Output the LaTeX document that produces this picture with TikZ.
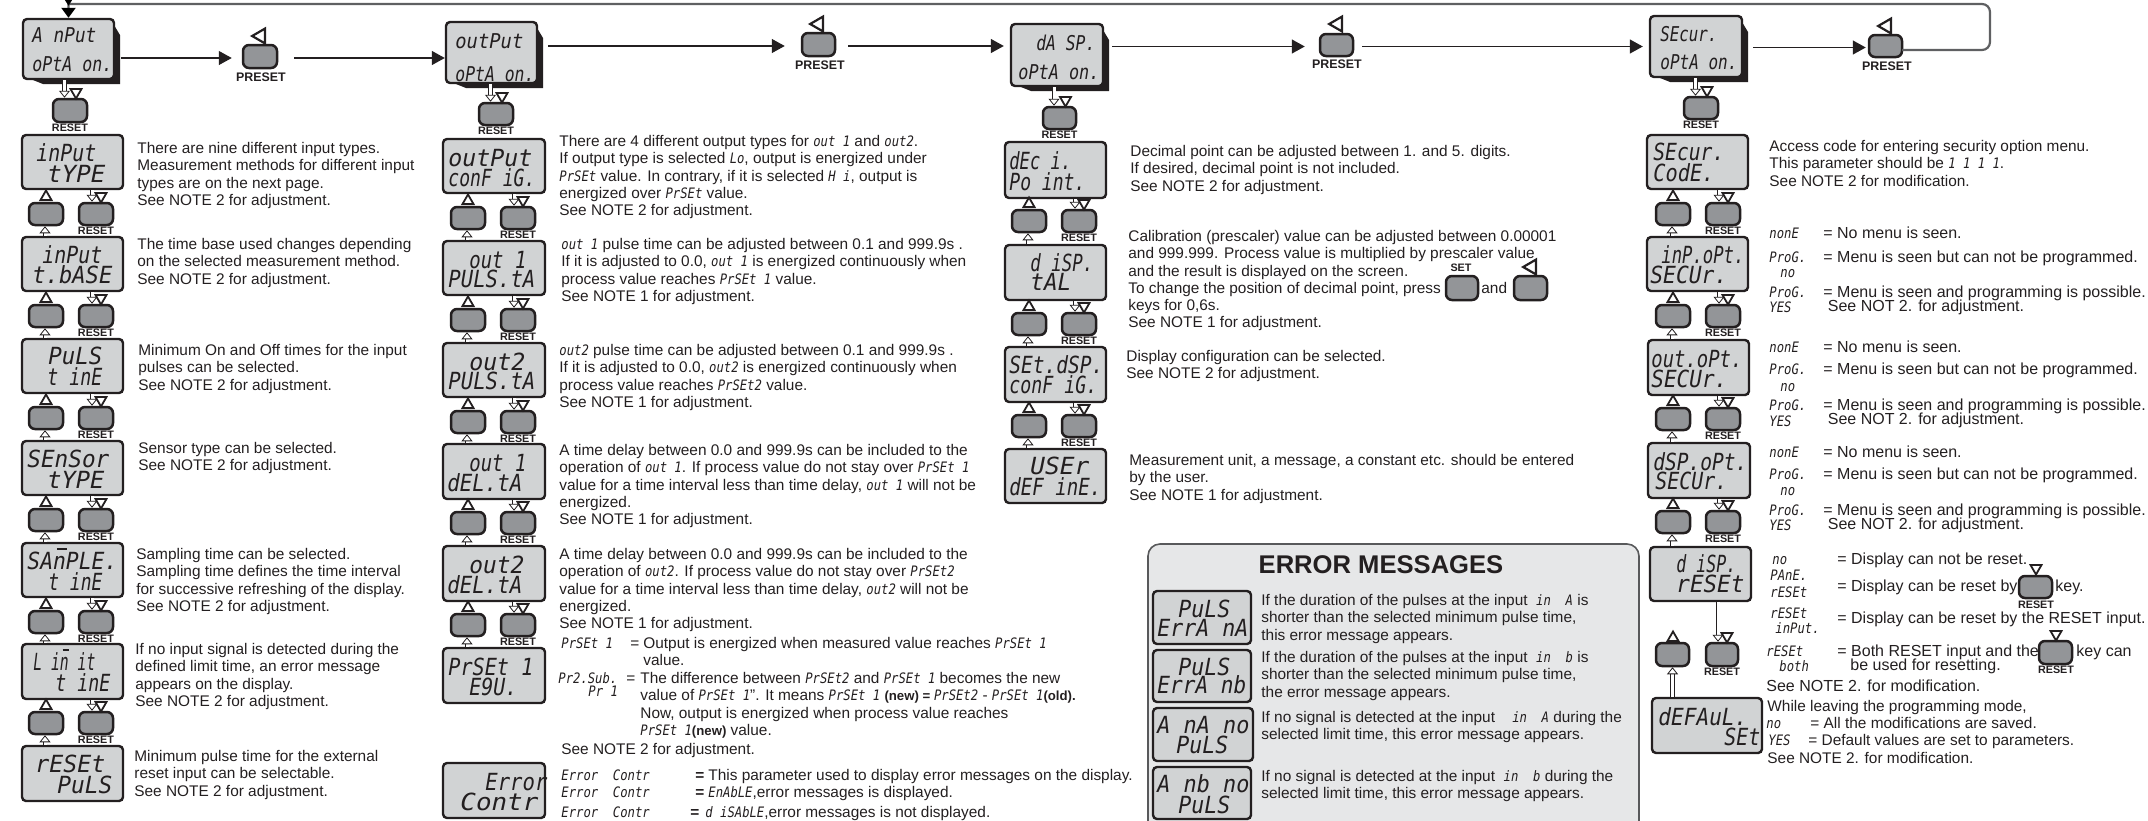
\documentclass[tikz,border=0pt]{standalone}
\usepackage{fontspec}
\usepackage{graphicx}
\usetikzlibrary{arrows.meta,fit,shapes.geometric}
\setmainfont{Liberation Sans}
\newfontfamily\lcdfam{DejaVu Sans Mono}
\newfontfamily\lcdinl[FakeStretch=.85]{DejaVu Sans Mono}
\definecolor{dark}{HTML}{231F20}
\definecolor{face}{HTML}{D1D3D4}
\definecolor{key}{HTML}{939598}
\definecolor{pan}{HTML}{E6E7E8}
\definecolor{panline}{HTML}{58595B}
\definecolor{loopc}{HTML}{5F6062}
\newlength\upx \setlength\upx{.5pt}
\newcounter{tnode}
\newcommand\lcdbig{\lcdfam\itshape\fontsize{11.8}{13}\selectfont}
\newcommand\lcdsm{\lcdfam\itshape\fontsize{10.2}{11}\selectfont}
\newcommand\lc[1]{{\lcdinl\itshape\fontsize{7.2}{8}\selectfont #1}}
\newcommand\mn{\rlap{\hspace{.18em}\raisebox{.8em}{\rule{.45em}{.09em}}}n}
\newcommand\fa{\fontsize{7.7}{8.65}\selectfont}
\newcommand\fb{\fontsize{8}{8.65}\selectfont}
\tikzset{
 lcdbox/.style={draw=dark,fill=face,line width=1.2pt,rounded corners=2pt,inner sep=0pt},
 btnbox/.style={draw=dark,fill=key,line width=1.25pt,rounded corners=3pt,inner sep=0pt},
 lcdtext/.style={anchor=base west,inner sep=0pt,text=dark},
 txt/.style={anchor=north west,align=left,inner sep=0pt,text=dark},
 keylab/.style={inner sep=0pt,text=dark,font=\bfseries\fontsize{5.4}{6}\selectfont},
 preslab/.style={inner sep=0pt,text=dark,font=\bfseries\fontsize{6.2}{7}\selectfont},
 tribase/.style={regular polygon,regular polygon sides=3,draw=dark,fill=white,inner sep=0pt,line width=.9pt,minimum size=6.4pt},
 tribig/.style={regular polygon,regular polygon sides=3,draw=dark,fill=white,inner sep=0pt,line width=1.1pt,minimum size=8.5pt},
 flow/.style={draw=dark,line width=.65pt,transform canvas={yshift=-.75pt},-{Triangle[length=6.5pt,width=7pt]}},
 hollow/.style={draw=dark,line width=.45pt,double=white,double distance=1.5pt,-{Triangle[fill=white,length=3.5pt,width=5.5pt,line width=.4pt]}},
 loopline/.style={draw=loopc,line width=1.1pt},
 panelbox/.style={draw=panline,fill=pan,line width=.8pt,rounded corners=6pt,inner sep=0pt},
}
% displays
\newcommand\dsp[5]{\node[lcdbox,fit={(#2,#3)(#4,#5)}] (#1) {};}
\newcommand\topdsp[5]{\fill[dark] (#4-3,#3+1) -- (#4+6,#3+16) -- (#4+6,#5+5) -- (#2+20,#5+5) -- (#2,#5-3) -- cycle;
 \node[lcdbox,fit={(#2,#3)(#4,#5)}] (#1) {};}
\newcommand\btn[5]{\node[btnbox,fit={(#2,#3)(#4,#5)}] (#1) {};}
\newcommand\lcdl[4]{\stepcounter{tnode}\node[lcdtext] (t\arabic{tnode}) at (#1,#2) {\resizebox{#3\upx}{\height}{\lcdbig #4}};}
\newcommand\lcds[4]{\stepcounter{tnode}\node[lcdtext] (t\arabic{tnode}) at (#1,#2) {\resizebox{#3\upx}{\height}{\lcdsm #4}};}
\newcommand\triU[2]{\stepcounter{tnode}\node[tribase,anchor=south] (t\arabic{tnode}) at ({#1},{#2}) {};}
\newcommand\triD[2]{\stepcounter{tnode}\node[tribase,shape border rotate=180,anchor=north] (t\arabic{tnode}) at ({#1},{#2}) {};}
\newcommand\triL[2]{\stepcounter{tnode}\node[tribig,shape border rotate=90,anchor=east] (t\arabic{tnode}) at ({#1},{#2}) {};}
\newcommand\rlab[3]{\stepcounter{tnode}\node[keylab] (t\arabic{tnode}) at ({#1},{#2}) {#3};}
\newcommand\plab[3]{\stepcounter{tnode}\node[preslab] (t\arabic{tnode}) at ({#1},{#2}) {#3};}
\newcommand\para[4][\fa]{\stepcounter{tnode}\node[txt,font=#1] (t\arabic{tnode}) at (#2,#3-7) {\rule{0pt}{6pt}#4};}
% two keys between two displays: L, T, prefix, this box, next box
\newcommand\ctl[5]{%
 \btn{#3l}{#1+7}{#2+68}{#1+41}{#2+90}
 \btn{#3r}{#1+57}{#2+68}{#1+91}{#2+90}
 \triU{#1+24}{#2+66}
 \triD{#1+79}{#2+57}
 \rlab{#1+74}{#2+96}{RESET}
 \draw[hollow,transform canvas={xshift=-2pt}] (#4.south -| #3r.north) -- (#3r.north);
 \draw[hollow,transform canvas={xshift=-.5pt}] (#5.north -| #3l.south) -- (#3l.south);
}
% single key below a menu head: name x1 y1 x2 y2 head
\newcommand\topctl[6]{%
 \btn{#1}{#2}{#3}{#4}{#5}
 \triD{(#2+#4)/2+6}{#3-11}
 \rlab{(#2+#4)/2}{#5+6}{RESET}
 \draw[hollow,transform canvas={xshift=-2.75pt}] (#6.south -| #1.north) -- (#1.north);
}
\begin{document}
\begin{tikzpicture}[x=.5pt,y=-.5pt]
\useasboundingbox (0,0) rectangle (2148,820);
% error panel behind
\node[panelbox,fit={(1148,544)(1639,850)}] (errpanel) {};
\stepcounter{tnode}\node[inner sep=0pt,text=dark,font=\bfseries\fontsize{12.8}{14}\selectfont] (errtitle) at (1381,565) {ERROR MESSAGES};

% ---- heads and preset keys
\topdsp{a1}{23}{19}{114}{79}
\lcds{32}{42}{64}{A nPut}\lcds{32}{71}{80}{oPtA on.}
\btn{p1}{243}{45}{277}{68}\triL{266}{36}\plab{261}{77}{PRESET}
\topdsp{a2}{446}{22}{537}{83}
\lcds{455}{48}{68}{outPut}\lcds{455}{81}{79}{oPtA on.}
\btn{p2}{802}{33}{835}{56}\triL{824}{24}\plab{820}{65}{PRESET}
\topdsp{a3}{1011}{24}{1103}{86}
\lcds{1036}{50}{59}{dA SP.}\lcds{1018}{79}{81}{oPtA on.}
\btn{p3}{1320}{34}{1353}{56}\triL{1343}{24}\plab{1337}{64}{PRESET}
\topdsp{a4}{1650}{16}{1742}{77}
\lcds{1660}{41}{57}{SEcur.}\lcds{1660}{69}{77}{oPtA on.}
\btn{p4}{1869}{35}{1902}{57}\triL{1892}{26}\plab{1887}{66}{PRESET}

\draw[flow,shorten <=3pt,shorten >=5pt] (a1.east |- p1.west) -- (p1.west);
\draw[flow,shorten <=8pt] (p1.east) -- (a2.west |- p1.east);
\draw[flow,shorten <=5pt,shorten >=8pt] (a2.east |- p2.west) -- (p2.west);
\draw[flow,shorten <=6pt,shorten >=3pt] (p2.east) -- (a3.west |- p2.east);
\draw[flow,shorten <=4pt,shorten >=7pt] (a3.east |- p3.west) -- (p3.west);
\draw[flow,shorten <=4pt,shorten >=3pt] (p3.east) -- (a4.west |- p3.east);
\draw[flow,shorten <=5pt,shorten >=1pt] (a4.east |- p4.west) -- (p4.west);
\coordinate (loopa) at (1902,50);
\coordinate (loopb) at (1990,4);
\draw[loopline,rounded corners=4pt,-{Triangle[color=black,length=3pt,width=3.5pt,sep=1pt]Triangle[color=black,length=5pt,width=7pt]}] (loopa) -- (loopb |- loopa) -- (loopb) [sharp corners] -- (a1.north |- loopb) -- (a1.north);

% ---- column 1
\topctl{k1}{53}{99}{87}{122}{a1}
\dsp{c1a}{22}{135}{123}{189}\lcdl{36}{161}{60}{inPut}\lcdl{47}{182}{58}{tYPE}
\dsp{c1b}{22}{237}{123}{291}\lcdl{42}{263}{60}{inPut}\lcdl{32}{283}{80}{t.bASE}
\dsp{c1c}{22}{339}{123}{393}\lcdl{48}{364}{54}{PuLS}\lcdl{47}{385}{55}{t inE}
\dsp{c1d}{22}{441}{123}{495}\lcdl{27}{467}{82}{SEnSor}\lcdl{47}{488}{57}{tYPE}
\dsp{c1e}{22}{543}{123}{597}\lcdl{27}{569}{90}{SA\mn PLE.}\lcdl{48}{590}{54}{t inE}
\dsp{c1f}{22}{644}{123}{699}\lcdl{33}{670}{62}{L i\mn\ it}\lcdl{55}{691}{55}{t inE}
\dsp{c1g}{22}{746}{123}{801}\lcdl{35}{772}{70}{rESEt}\lcdl{57}{793}{55}{PuLS}
\ctl{22}{135}{c1ka}{c1a}{c1b}
\ctl{22}{237}{c1kb}{c1b}{c1c}
\ctl{22}{339}{c1kc}{c1c}{c1d}
\ctl{22}{441}{c1kd}{c1d}{c1e}
\ctl{22}{543}{c1ke}{c1e}{c1f}
\ctl{22}{644}{c1kf}{c1f}{c1g}
\para{137}{148}{There are nine different input types.\\Measurement methods for different input\\types are on the next page.\\See NOTE 2 for adjustment.}
\para{137}{244}{The time base used changes depending\\on the selected measurement method.\\See NOTE 2 for adjustment.}
\para{138}{350}{Minimum On and Off times for the input\\pulses can be selected.\\See NOTE 2 for adjustment.}
\para{138}{448}{Sensor type can be selected.\\See NOTE 2 for adjustment.}
\para{136}{554}{Sampling time can be selected.\\Sampling time defines the time interval\\for successive refreshing of the display.\\See NOTE 2 for adjustment.}
\para{135}{649}{If no input signal is detected during the\\defined limit time, an error message\\appears on the display.\\See NOTE 2 for adjustment.}
\para{134}{756}{Minimum pulse time for the external\\reset input can be selectable.\\See NOTE 2 for adjustment.}

% ---- column 2
\topctl{k2}{479}{103}{513}{125}{a2}
\dsp{c2a}{443}{139}{545}{193}\lcdl{448}{166}{84}{outPut}\lcdl{448}{186}{87}{conF iG.}
\dsp{c2b}{443}{241}{545}{295}\lcdl{469}{268}{57}{out 1}\lcdl{448}{287}{87}{PULS.tA}
\dsp{c2c}{443}{343}{545}{397}\lcdl{469}{370}{56}{out2}\lcdl{448}{389}{87}{PULS.tA}
\dsp{c2d}{443}{444}{545}{499}\lcdl{469}{471}{57}{out 1}\lcdl{447}{491}{75}{dEL.tA}
\dsp{c2e}{443}{546}{545}{601}\lcdl{469}{573}{55}{out2}\lcdl{447}{593}{75}{dEL.tA}
\dsp{c2f}{443}{648}{545}{703}\lcdl{448}{675}{85}{PrSEt 1}\lcdl{469}{695}{48}{E9U.}
\dsp{c2g}{443}{763}{545}{818}\lcdl{485}{790}{62}{Error}\lcdl{460}{810}{78}{Contr}
\ctl{444}{139}{c2ka}{c2a}{c2b}
\ctl{444}{241}{c2kb}{c2b}{c2c}
\ctl{444}{343}{c2kc}{c2c}{c2d}
\ctl{444}{444}{c2kd}{c2d}{c2e}
\ctl{444}{546}{c2ke}{c2e}{c2f}
\para{559}{141}{There are 4 different output types for \lc{out 1} and \lc{out2}.\\If output type is selected \lc{Lo}, output is energized under\\\lc{PrSEt} value. In contrary, if it is selected \lc{H i}, output is\\energized over \lc{PrSEt} value.\\See NOTE 2 for adjustment.}
\para{561}{244}{\lc{out 1} pulse time can be adjusted between 0.1 and 999.9s .\\If it is adjusted to 0.0, \lc{out 1} is energized continuously when\\process value reaches \lc{PrSEt 1} value.\\See NOTE 1 for adjustment.}
\para{559}{350}{\lc{out2} pulse time can be adjusted between 0.1 and 999.9s .\\If it is adjusted to 0.0, \lc{out2} is energized continuously when\\process value reaches \lc{PrSEt2} value.\\See NOTE 1 for adjustment.}
\para{559}{450}{A time delay between  0.0 and 999.9s can be included to the\\operation of \lc{out 1}. If process value do not stay over \lc{PrSEt 1}\\value for a time interval less than time delay, \lc{out 1} will not be\\energized.\\See NOTE 1 for adjustment.}
\para{559}{554}{A time delay between 0.0 and 999.9s can be included to the\\operation of \lc{out2}. If process value do not stay over \lc{PrSEt2}\\value for a time interval less than time delay, \lc{out2} will not be\\energized.\\See NOTE 1 for adjustment.}
\para{561}{643}{\lc{PrSEt 1}}
\para{630}{643}{=}
\para{643}{643}{Output is energized  when measured value reaches \lc{PrSEt 1}\\value.}
\para{558}{678}{\lc{Pr2.Sub.}}
\para{588}{691}{\lc{Pr 1}}
\para{626}{678}{=}
\para{640}{678}{The difference between \lc{PrSEt2} and \lc{PrSEt 1} becomes the new\\value of \lc{PrSEt 1}". It means \lc{PrSEt 1} {\bfseries\fontsize{6.6}{8}\selectfont(new) = }\lc{PrSEt2} - \lc{PrSEt 1}{\bfseries\fontsize{6.6}{8}\selectfont(old).}\\Now, output is energized  when process value reaches\\\lc{PrSEt 1}{\bfseries\fontsize{6.6}{8}\selectfont(new)} value.}
\para{561}{749}{See NOTE 2 for adjustment.}
\para{561}{775}{\lc{Error\ \ Contr}}
\para{561}{792}{\lc{Error\ \ Contr}}
\para{561}{812}{\lc{Error\ \ Contr}}
\para{695}{775}{\textbf{=}}
\para{695}{792}{\textbf{=}}
\para{690}{812}{\textbf{=}}
\para{708}{775}{This parameter used to display error messages on the display.}
\para{708}{792}{\lc{EnAbLE},error messages is displayed.}
\para{705}{812}{\lc{d iSAbLE},error messages is not displayed.}

% ---- column 3
\topctl{k3}{1043}{107}{1076}{129}{a3}
\dsp{c3a}{1005}{142}{1106}{198}\lcdl{1009}{169}{62}{dEc i.}\lcdl{1009}{190}{76}{Po int.}
\dsp{c3b}{1005}{245}{1106}{300}\lcdl{1030}{271}{63}{d iSP.}\lcdl{1030}{290}{41}{tAL}
\dsp{c3c}{1005}{347}{1106}{402}\lcdl{1009}{373}{94}{SEt.dSP.}\lcdl{1009}{393}{88}{conF iG.}
\dsp{c3d}{1005}{449}{1106}{503}\lcdl{1030}{474}{59}{USEr}\lcdl{1009}{495}{92}{dEF inE.}
\ctl{1005}{142}{c3ka}{c3a}{c3b}
\ctl{1005}{245}{c3kb}{c3b}{c3c}
\ctl{1005}{347}{c3kc}{c3c}{c3d}
\para{1130}{151}{Decimal point can be adjusted between  1. and 5. digits.\\If desired, decimal point is not included.\\See NOTE 2 for adjustment.}
\para{1128}{236}{Calibration (prescaler) value can be adjusted between 0.00001\\and 999.999. Process value is  multiplied by prescaler value\\and the result is displayed on the screen.\\To change the position of decimal point, press\\keys for 0,6s.\\See NOTE 1 for adjustment.}
\btn{setk}{1446}{276}{1478}{300}
\btn{leftk}{1514}{276}{1547}{300}
\rlab{1461}{268}{SET}
\triL{1537}{267}
\para{1481}{288}{and}
\para{1126}{356}{Display configuration can be selected.\\See NOTE 2 for adjustment.}
\para{1129}{460}{Measurement unit, a message, a constant etc. should be entered\\by the user.\\See NOTE 1 for adjustment.}

% ---- error messages
\dsp{e1}{1153}{591}{1251}{644}\lcdl{1178}{617}{52}{PuLS}\lcdl{1157}{636}{91}{ErrA nA}
\dsp{e2}{1153}{650}{1251}{702}\lcdl{1178}{675}{52}{PuLS}\lcdl{1157}{693}{89}{ErrA nb}
\dsp{e3}{1153}{708}{1253}{761}\lcdl{1157}{733}{92}{A nA no}\lcdl{1176}{753}{52}{PuLS}
\dsp{e4}{1153}{767}{1251}{819}\lcdl{1157}{792}{92}{A nb no}\lcdl{1178}{813}{52}{PuLS}
\para{1261}{600}{If the duration of the pulses at the input \ \lc{in\ \ A} is\\shorter than the selected minimum pulse time,\\this error message appears.}
\para{1261}{657}{If the duration of the pulses at the input \ \lc{in\ \ b} is\\shorter than the selected minimum pulse time,\\the error message appears.}
\para{1261}{717}{If no signal is detected at the input \ \ \ \lc{in\ \ A} during the\\selected limit time, this error message appears.}
\para{1261}{776}{If no signal is detected at the input \ \lc{in\ \ b} during the\\selected limit time, this error message appears.}

% ---- column 4
\topctl{k4}{1684}{97}{1718}{119}{a4}
\dsp{c4a}{1647}{135}{1748}{189}\lcdl{1653}{160}{71}{SEcur.}\lcdl{1653}{181}{61}{CodE.}
\dsp{c4b}{1647}{237}{1748}{291}\lcdl{1661}{263}{83}{inP.oPt.}\lcdl{1650}{283}{77}{SECUr.}
\dsp{c4c}{1648}{340}{1749}{395}\lcdl{1651}{367}{91}{out.oPt.}\lcdl{1651}{387}{76}{SECUr.}
\dsp{c4d}{1648}{443}{1750}{498}\lcdl{1653}{470}{94}{dSP.oPt.}\lcdl{1655}{489}{72}{SECUr.}
\dsp{c4e}{1650}{547}{1751}{601}\lcdl{1676}{572}{60}{d iSP.}\lcdl{1676}{592}{68}{rESEt}
\dsp{c4f}{1652}{698}{1762}{753}\lcdl{1658}{725}{89}{dEFAuL.}\lcdl{1724}{745}{36}{SEt}
\ctl{1649}{135}{c4ka}{c4a}{c4b}
\ctl{1649}{237}{c4kb}{c4b}{c4c}
\ctl{1649}{340}{c4kc}{c4c}{c4d}
\ctl{1649}{443}{c4kd}{c4d}{c4e}
% last pair of keys
\btn{c4kel}{1656}{643}{1689}{666}
\btn{c4ker}{1706}{643}{1738}{666}
\triU{1673}{642}
\triD{1727}{632}
\rlab{1722}{672}{RESET}
\draw[hollow,transform canvas={xshift=-2pt}] (c4e.south -| c4ker.north) -- (c4ker.north);
\draw[hollow] (c4f.north -| c4kel.south) -- (c4kel.south);

\para{1769}{146}{Access code for entering security option menu.\\This parameter should be \lc{1 1 1 1}.\\See NOTE 2 for modification.}
\newcommand\secblock[6]{%
 \para{1769}{#1}{\lc{nonE}}\para[\fb]{1823}{#1}{= No menu is seen.}
 \para{1769}{#2}{\lc{ProG.}}\para[\fb]{1823}{#2}{= Menu is seen but can not be programmed.}
 \para{1780}{#3}{\lc{no}}
 \para{1769}{#4}{\lc{ProG.}}\para[\fb]{1823}{#4}{= Menu is seen and programming is possible.}
 \para{1769}{#5}{\lc{YES}}\para[\fb]{1823}{#6}{\ See NOT 2. for adjustment.}
}
\secblock{233}{257}{272}{292}{307}{306}
\secblock{347}{369}{386}{405}{421}{419}
\secblock{452}{474}{490}{510}{525}{524}
\para{1772}{559}{\lc{no}}
\para[\fb]{1837}{559}{= Display can not be reset.}
\para{1770}{575}{\lc{PAnE.}}
\para{1770}{592}{\lc{rESEt}}
\para[\fb]{1837}{586}{= Display can be reset by}
\btn{rk1}{2019}{576}{2052}{598}
\triD{2036}{564}
\rlab{2036}{605}{RESET}
\para[\fb]{2055}{586}{key.}
\para{1770}{613}{\lc{rESEt}}
\para{1775}{628}{\lc{inPut.}}
\para[\fb]{1837}{618}{= Display can be reset by the RESET input.}
\para{1766}{651}{\lc{rESEt}}
\para{1779}{666}{\lc{both}}
\para[\fb]{1837}{651}{= Both RESET input and the}
\btn{rk2}{2039}{641}{2072}{664}
\triD{2056}{630}
\rlab{2056}{670}{RESET}
\para[\fb]{2076}{651}{key can}
\para[\fb]{1850}{665}{be used for resetting.}
\para[\fb]{1766}{686}{See NOTE 2. for modification.}
\para{1767}{706}{While leaving the programming mode,}
\para{1766}{723}{\lc{no}}
\para{1810}{723}{= All the modifications are saved.}
\para{1768}{740}{\lc{YES}}
\para{1808}{740}{= Default values are set to parameters.}
\para{1767}{758}{See NOTE 2. for modification.}
\end{tikzpicture}
\end{document}
